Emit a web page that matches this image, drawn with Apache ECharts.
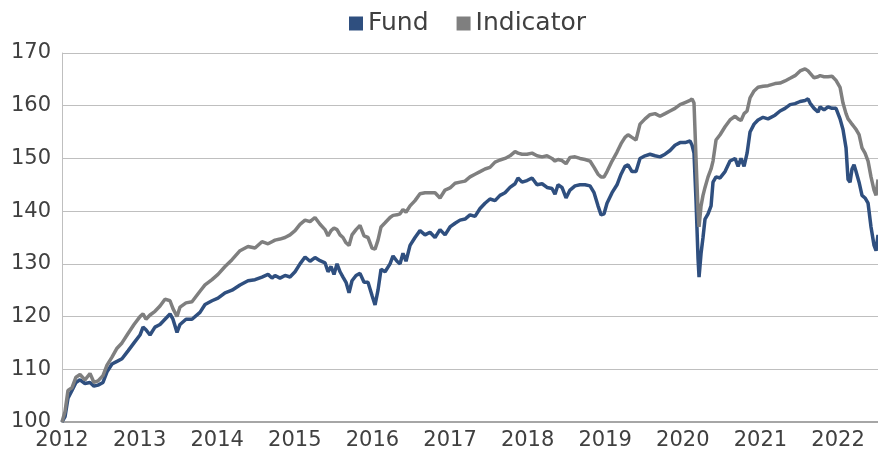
<!DOCTYPE html>
<html>
<head>
<meta charset="utf-8">
<script src="https://cdn.jsdelivr.net/npm/echarts@6/dist/echarts.min.js"></script>
<style>
  html, body { margin: 0; padding: 0; background: #fff; }
  #chart { width: 878px; height: 454px; }
</style>
</head>
<body>
<div id="chart"></div>
<script>
// time in decimal years
const years = [
  2012.000, 2012.039, 2012.077, 2012.129, 2012.180, 2012.232, 2012.296, 2012.361, 2012.412, 2012.464,
  2012.528, 2012.580, 2012.644, 2012.709, 2012.773, 2012.851, 2012.928, 2013.005, 2013.044, 2013.082,
  2013.134, 2013.198, 2013.263, 2013.327, 2013.392, 2013.430, 2013.482, 2013.521, 2013.598, 2013.675,
  2013.778, 2013.843, 2013.933, 2014.010, 2014.101, 2014.191, 2014.294, 2014.397, 2014.487, 2014.577,
  2014.655, 2014.706, 2014.745, 2014.809, 2014.874, 2014.938, 2015.003, 2015.067, 2015.132, 2015.196,
  2015.260, 2015.325, 2015.389, 2015.428, 2015.467, 2015.505, 2015.544, 2015.583, 2015.621, 2015.660,
  2015.699, 2015.737, 2015.789, 2015.840, 2015.892, 2015.943, 2015.995, 2016.034, 2016.072, 2016.111,
  2016.163, 2016.227, 2016.266, 2016.317, 2016.356, 2016.394, 2016.433, 2016.485, 2016.549, 2016.613,
  2016.678, 2016.742, 2016.807, 2016.871, 2016.936, 2017.000, 2017.065, 2017.129, 2017.193, 2017.258,
  2017.322, 2017.387, 2017.451, 2017.515, 2017.580, 2017.644, 2017.709, 2017.773, 2017.838, 2017.876,
  2017.928, 2017.992, 2018.057, 2018.121, 2018.186, 2018.250, 2018.314, 2018.353, 2018.392, 2018.443,
  2018.495, 2018.546, 2018.611, 2018.675, 2018.740, 2018.804, 2018.856, 2018.907, 2018.946, 2018.985,
  2019.023, 2019.088, 2019.152, 2019.204, 2019.255, 2019.294, 2019.345, 2019.397, 2019.448, 2019.513,
  2019.577, 2019.642, 2019.706, 2019.771, 2019.835, 2019.899, 2019.964, 2020.028, 2020.093, 2020.119,
  2020.144, 2020.170, 2020.196, 2020.209, 2020.235, 2020.260, 2020.286, 2020.325, 2020.364, 2020.389,
  2020.428, 2020.480, 2020.544, 2020.608, 2020.673, 2020.712, 2020.750, 2020.789, 2020.828, 2020.866,
  2020.918, 2020.969, 2021.034, 2021.098, 2021.188, 2021.253, 2021.317, 2021.382, 2021.446, 2021.511,
  2021.575, 2021.614, 2021.639, 2021.691, 2021.742, 2021.768, 2021.820, 2021.871, 2021.923, 2021.974,
  2022.026, 2022.064, 2022.103, 2022.129, 2022.155, 2022.180, 2022.206, 2022.232, 2022.271, 2022.309,
  2022.348, 2022.387, 2022.425, 2022.464, 2022.490, 2022.515
]

const fund = [
  100, 101, 104.5, 106, 107.5, 108, 107.3, 107.5, 106.8, 107,
  107.5, 109.5, 111, 111.5, 112, 113.5, 115, 116.5, 118, 117.5,
  116.5, 118, 118.5, 119.5, 120.5, 119.5, 117, 118.5, 119.5, 119.5,
  120.8, 122.3, 123, 123.5, 124.5, 125, 126, 126.8, 127, 127.5,
  128, 127.3, 127.8, 127.3, 127.8, 127.5, 128.5, 130, 131.3, 130.5,
  131.2, 130.6, 130.2, 128.5, 129.5, 128, 130, 128.5, 127.5, 126.5,
  124.5, 126.8, 127.8, 128.2, 126.5, 126.5, 124, 122.2, 125, 129,
  128.5, 130, 131.5, 130.5, 130, 132, 130.5, 133.5, 135, 136.3,
  135.5, 136, 135, 136.5, 135.5, 137, 137.7, 138.3, 138.5, 139.3,
  139, 140.5, 141.5, 142.3, 142, 143, 143.5, 144.5, 145.2, 146.3,
  145.5, 145.8, 146.3, 145, 145.2, 144.5, 144.3, 143.2, 145, 144.5,
  142.5, 144, 144.8, 145, 145, 144.8, 143.5, 141, 139.3, 139.5,
  141.5, 143.5, 145, 147, 148.5, 148.8, 147.5, 147.5, 150, 150.5,
  150.8, 150.5, 150.3, 150.8, 151.5, 152.5, 153, 153, 153.3, 152.5,
  151, 142, 131, 127.5, 132, 135, 138.5, 139.5, 141, 145.5,
  146.5, 146.3, 147.5, 149.5, 150, 148.5, 150, 148.5, 151, 155,
  156.5, 157.3, 157.8, 157.5, 158.2, 159, 159.5, 160.2, 160.4, 160.8,
  161, 161.3, 160.5, 159.5, 158.8, 159.8, 159.2, 159.8, 159.5, 159.5,
  157.5, 155.5, 152, 146, 145.5, 148, 148.8, 147.5, 145.5, 143,
  142.5, 141.5, 137, 133.5, 132.5, 135.5
]

const indicator = [
  100, 102, 106, 106.5, 108.5, 109, 108, 109.2, 107.5, 107.8,
  108.8, 110.8, 112.3, 114, 115, 116.8, 118.5, 120, 120.5, 119.5,
  120.3, 121, 122, 123.3, 123, 121.5, 120, 121.8, 122.6, 122.8,
  124.8, 126, 127, 128, 129.5, 130.8, 132.5, 133.3, 133, 134.2,
  133.8, 134.2, 134.5, 134.7, 135, 135.5, 136.3, 137.5, 138.3, 138,
  138.8, 137.5, 136.5, 135.3, 136.3, 136.8, 136.5, 135.5, 135, 134,
  133.5, 135.5, 136.5, 137.3, 135.3, 135, 133, 132.8, 134.5, 137,
  137.8, 138.8, 139.2, 139.3, 139.5, 140.3, 139.8, 141, 142, 143.3,
  143.5, 143.5, 143.5, 142.5, 144, 144.4, 145.3, 145.5, 145.7, 146.5,
  147, 147.5, 148, 148.3, 149.3, 149.7, 150, 150.5, 151.3, 151,
  150.8, 150.8, 151, 150.5, 150.3, 150.5, 150, 149.5, 149.8, 149.6,
  149, 150.2, 150.3, 150, 149.8, 149.5, 148.3, 147, 146.5, 146.5,
  147.5, 149.5, 151.2, 152.8, 154, 154.5, 154, 153.5, 156.5, 157.5,
  158.3, 158.5, 158, 158.5, 159, 159.5, 160.2, 160.6, 161, 161.3,
  160.5, 150, 140, 137, 141, 143, 144.5, 146.5, 148, 149.5,
  153.5, 154.5, 156, 157.3, 158, 157.5, 157.2, 158.5, 159, 161.5,
  162.8, 163.5, 163.7, 163.8, 164.2, 164.3, 164.7, 165.2, 165.7, 166.6,
  167, 166.6, 166.3, 165.3, 165.5, 165.7, 165.5, 165.5, 165.6, 164.8,
  163.5, 160.5, 158.5, 157.5, 157, 156.5, 156, 155.5, 154.5, 152,
  151, 149.5, 146.5, 144, 143, 146
]

const seriesNames = ['Fund', 'Indicator']
const seriesColors = ['#2F4F7F', '#7F7F7F']

const textColor = '#404040'
const font = 'DejaVu Sans'

function pairs(values) {
  return years.map((y, i) => [y, values[i]])
}

const chart = echarts.init(document.getElementById('chart'))
chart.setOption({
  animation: false,
  color: seriesColors,
  legend: {
    top: 6,
    left: 344,
    icon: 'rect',
    itemWidth: 14,
    itemHeight: 14,
    itemGap: 28,
    textStyle: { fontSize: 25, color: textColor, fontFamily: font },
    data: seriesNames
  },
  grid: {
    left: 62,
    right: 0,
    top: 53,
    bottom: 32
  },
  xAxis: {
    type: 'value',
    min: 2012,
    max: years[years.length - 1],
    interval: 1,
    axisLine: { show: true, onZero: false, lineStyle: { color: '#A6A6A6', width: 2 } },
    axisTick: { show: false },
    splitLine: { show: false },
    axisLabel: {
      fontSize: 21,
      fontFamily: font,
      color: textColor,
      margin: 8,
      showMaxLabel: false,
      formatter: v => String(Math.round(v))
    }
  },
  yAxis: {
    type: 'value',
    min: 100,
    max: 170,
    interval: 10,
    axisLine: { show: true, lineStyle: { color: '#BFBFBF', width: 1 } },
    axisTick: { show: false },
    splitLine: { lineStyle: { color: '#BFBFBF', width: 1 } },
    axisLabel: { fontSize: 21, fontFamily: font, color: textColor, margin: 11 }
  },
  series: seriesNames.map((name, i) => ({
    name,
    type: 'line',
    showSymbol: false,
    data: pairs(i === 0 ? fund : indicator),
    lineStyle: { width: 3.5, color: seriesColors[i] },
    itemStyle: { color: seriesColors[i] }
  }))
})
</script>
</body>
</html>
